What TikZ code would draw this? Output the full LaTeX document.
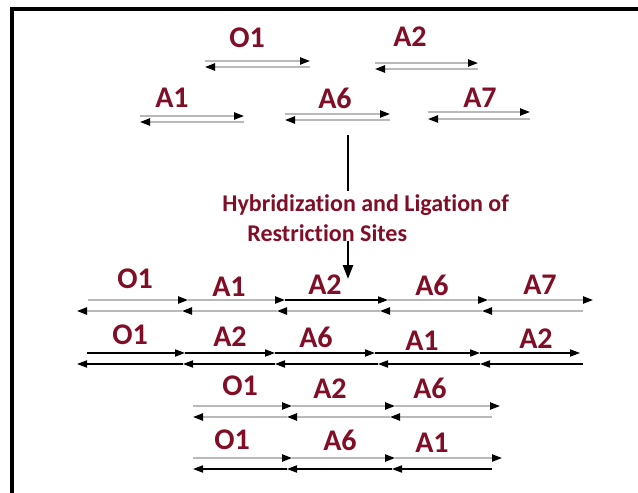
\documentclass[tikz,border=0pt]{standalone}
\usepackage{fontspec}
\setmainfont{Carlito}[Ligatures=NoCommon]
\usepackage{tikz}
\usetikzlibrary{arrows.meta}

\definecolor{sitered}{RGB}{128,14,38}
\tikzset{
  fwd/.style={-{Triangle[length=5pt,width=3.6pt,color=black]}, line width=0.9pt, color=gray!55},
  rev/.style={{Triangle[length=5pt,width=3.6pt,color=black]}-, line width=0.9pt, color=gray!55},
  dark/.style={color=black, line width=0.6pt},
  site/.style={text=sitered, font=\bfseries\fontsize{15}{15}\selectfont, inner sep=0pt},
  note/.style={text=sitered, font=\bfseries\fontsize{12}{14}\selectfont, inner sep=0pt}
}

\begin{document}
\begin{tikzpicture}[x=0.5pt, y=-0.5pt]
\useasboundingbox (0,0) rectangle (638,493);
% frame
\draw[line width=2pt] (12,493) -- (12,9) -- (638,9);

% single restriction sites
\node[site] (o1) at (247,38) {O1};
\draw[fwd] (205,61) -- (310,61);
\draw[rev] (205,67) -- (310,67);
\node[site] (a2) at (410,37) {A2};
\draw[fwd] (375,63) -- (478,63);
\draw[rev] (375,69) -- (478,69);
\node[site] (a1) at (172,98) {A1};
\draw[fwd] (140,116) -- (244,116);
\draw[rev] (140,122) -- (244,122);
\node[site] (a6) at (335,98) {A6};
\draw[fwd] (285,114) -- (390,114);
\draw[rev] (285,120) -- (390,120);
\node[site] (a7) at (480,98) {A7};
\draw[fwd] (428,112) -- (530,112);
\draw[rev] (428,119) -- (530,119);

% step
\coordinate (top) at (348,135);
\coordinate (bot) at (348,279);
\node[note, anchor=west] (hyb) at (222,205) {Hybridization and Ligation of};
\node[note, anchor=west] (res) at (247,233) {Restriction Sites};
\draw[line width=1.2pt] (top) -- (348,191);
\draw[line width=1.2pt, -{Triangle[length=7pt,width=5pt]}] (348,241) -- (bot);

% ligated products, row 1
\node[site] (r1o1) at (135,279) {O1};
\node[site] (r1a1) at (229,287) {A1};
\node[site] (r1a2) at (325,285) {A2};
\node[site] (r1a6) at (432,285) {A6};
\node[site] (r1a7) at (540,285) {A7};
\draw[fwd] (88,300) -- (188,300);
\draw[fwd] (188,300) -- (285,300);
\draw[fwd, dark] (285,300) -- (388,300);
\draw[fwd] (388,300) -- (488,300);
\draw[fwd] (488,300) -- (593,300);
\draw[rev] (77,311) -- (182,311);
\draw[rev] (182,311) -- (277,311);
\draw[rev] (277,311) -- (380,311);
\draw[rev] (380,311) -- (482,311);
\draw[rev] (482,311) -- (583,311);

% row 2
\node[site] (r2o1) at (130,335) {O1};
\node[site] (r2a2) at (230,337) {A2};
\node[site] (r2a6) at (316,337) {A6};
\node[site] (r2a1) at (422,341) {A1};
\node[site] (r2b2) at (536,339) {A2};
\draw[fwd, dark] (87,353) -- (185,353);
\draw[fwd, dark] (185,353) -- (275,353);
\draw[fwd, dark] (275,353) -- (375,353);
\draw[fwd, dark] (375,353) -- (480,353);
\draw[fwd, dark] (480,353) -- (580,353);
\draw[rev, dark] (77,364) -- (183,364);
\draw[rev, dark] (183,364) -- (275,364);
\draw[rev, dark] (275,364) -- (378,364);
\draw[rev, dark] (378,364) -- (480,364);
\draw[rev, dark] (480,364) -- (583,364);

% row 3
\node[site] (r3o1) at (240,386) {O1};
\node[site] (r3a2) at (330,389) {A2};
\node[site] (r3a6) at (430,388) {A6};
\draw[fwd] (193,406) -- (292,406);
\draw[fwd] (292,406) -- (395,406);
\draw[fwd] (395,406) -- (500,406);
\draw[rev] (193,417) -- (287,417);
\draw[rev] (287,417) -- (390,417);
\draw[rev] (390,417) -- (492,417);

% row 4
\node[site] (r4o1) at (232,440) {O1};
\node[site] (r4a6) at (340,440) {A6};
\node[site] (r4a1) at (432,443) {A1};
\draw[fwd] (193,458) -- (292,458);
\draw[fwd] (292,458) -- (395,458);
\draw[fwd] (395,458) -- (502,458);
\draw[rev, dark] (193,469) -- (287,469);
\draw[rev, dark] (287,469) -- (392,469);
\draw[rev, dark] (392,469) -- (492,469);
\end{tikzpicture}
\end{document}
